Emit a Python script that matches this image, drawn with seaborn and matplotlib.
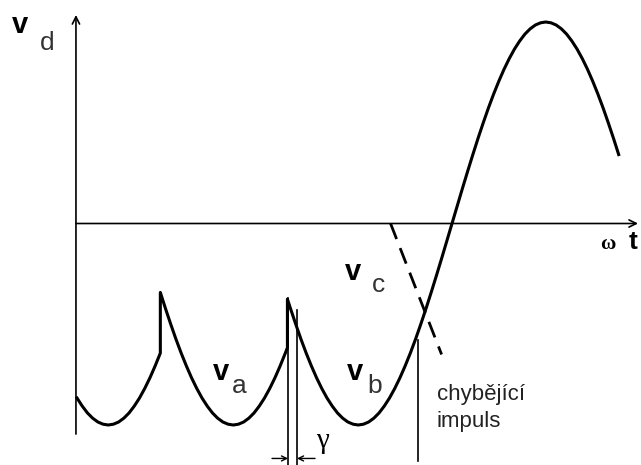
import matplotlib
matplotlib.use("Agg")
import matplotlib.pyplot as plt
import seaborn as sns
import pandas as pd

# ---- data (x in degrees of wt, y in units of phase amplitude) ----
curve_x = [0, 5, 10, 15, 20, 25, 30, 35, 40, 45, 50, 55, 60, 65, 70, 75, 80,
           80, 85, 90, 95, 100, 105, 110, 115, 120, 125, 130, 135, 140, 145, 150,
           155, 160, 165, 170, 175, 180, 185, 190, 195, 200, 202,
           202, 205, 210, 215, 220, 225, 230, 235, 240, 245, 250, 255, 260, 265,
           270, 275, 280, 285, 290, 295, 300, 305, 310, 315, 320, 325, 330, 335,
           340, 345, 350, 355, 360, 365, 370, 375, 380, 385, 390, 395, 400, 405,
           410, 415, 420, 425, 430, 435, 440, 445, 450, 455, 460, 465, 470, 475,
           480, 485, 490, 495, 500, 505, 510, 515, 520]
curve_y = [-0.866, -0.906, -0.940, -0.966, -0.985, -0.996, -1.000, -0.996, -0.985,
           -0.966, -0.940, -0.906, -0.866, -0.819, -0.766, -0.707, -0.643,
           -0.342, -0.423, -0.500, -0.574, -0.643, -0.707, -0.766, -0.819, -0.866,
           -0.906, -0.940, -0.966, -0.985, -0.996, -1.000, -0.996, -0.985, -0.966,
           -0.940, -0.906, -0.866, -0.819, -0.766, -0.707, -0.643, -0.616,
           -0.375, -0.423, -0.500, -0.574, -0.643, -0.707, -0.766, -0.819, -0.866,
           -0.906, -0.940, -0.966, -0.985, -0.996, -1.000, -0.996, -0.985, -0.966,
           -0.940, -0.906, -0.866, -0.819, -0.766, -0.707, -0.643, -0.574, -0.500,
           -0.423, -0.342, -0.259, -0.174, -0.087, 0.000, 0.087, 0.174, 0.259,
           0.342, 0.423, 0.500, 0.574, 0.643, 0.707, 0.766, 0.819, 0.866, 0.906,
           0.940, 0.966, 0.985, 0.996, 1.000, 0.996, 0.985, 0.966, 0.940, 0.906,
           0.866, 0.819, 0.766, 0.707, 0.643, 0.574, 0.500, 0.423, 0.342]

vc_x = [301, 350]          # dashed (missing) phase c
vc_y = [0.0, -0.65]

missing_x = [327.4, 327.4]  # vertical marker of the missing pulse
missing_y = [-0.58, -1.18]

gamma_x1 = [202.6, 202.6]
gamma_y1 = [-0.37, -1.20]
gamma_x2 = [211.2, 211.2]
gamma_y2 = [-0.43, -1.20]

labels = {"vd": ("v", "d"), "va": ("v", "a"), "vb": ("v", "b"), "vc": ("v", "c")}
note_lines = ["chybějící", "impuls"]

# ---- figure ----
W, H = 641, 465
fig = plt.figure(figsize=(W / 100, H / 100), dpi=100)
ax = fig.add_axes([0, 0, 1, 1])
ax.set_axis_off()

PX = 1.0417  # pixels per degree
X0 = 77      # pixel of x = 0
Y0 = 223.5   # pixel of y = 0
A = 201.5    # pixels per unit
ax.set_xlim((0 - X0) / PX, (W - X0) / PX)
ax.set_ylim((Y0 - H) / A, Y0 / A)

curve = pd.DataFrame({"x": curve_x, "y": curve_y})
sns.lineplot(data=curve, x="x", y="y", sort=False, estimator=None,
             color="black", lw=2.2, ax=ax)
sns.lineplot(x=vc_x, y=vc_y, sort=False, estimator=None, color="black",
             lw=2.0, linestyle=(0, (6, 3.5)), ax=ax)
for xs, ys in [(missing_x, missing_y), (gamma_x1, gamma_y1), (gamma_x2, gamma_y2)]:
    sns.lineplot(x=xs, y=ys, sort=False, estimator=None, color="black",
                 lw=1.2, ax=ax)

# axes with arrows
arrow = dict(arrowstyle="->", lw=1.2, color="black", shrinkA=0, shrinkB=0,
             mutation_scale=13)
ax.annotate("", xy=(-1, 1.035), xytext=(-1, -1.045), arrowprops=arrow)
ax.annotate("", xy=(538.6, 0), xytext=(-1, 0), arrowprops=arrow)

# gamma arrows
small = dict(arrowstyle="->", lw=1.0, color="black", shrinkA=0, shrinkB=0,
             mutation_scale=9)
ax.annotate("", xy=(202.6, -1.166), xytext=(187.2, -1.166), arrowprops=small)
ax.annotate("", xy=(211.2, -1.166), xytext=(228.5, -1.166), arrowprops=small)


def ftext(px, py, s, **kw):
    fig.text(px / W, 1 - py / H, s, va="baseline", ha="left", **kw)


main_font = dict(family="Liberation Sans", fontsize=21, fontweight="bold")
sub_font = dict(family="Liberation Sans", fontsize=19, color="#333333")

for key, (vx, vy, sx, sy) in {"vd": (12, 33, 40, 50), "va": (213, 380, 232, 393),
                              "vb": (347, 380, 367, 393), "vc": (345, 280, 372, 292)}.items():
    ftext(vx, vy, labels[key][0], **main_font)
    ftext(sx, sy, labels[key][1], **sub_font)

ftext(600, 249, "ω", family="Liberation Serif", fontsize=15, fontweight="bold")
ftext(629, 249, "t", family="Liberation Sans", fontsize=19, fontweight="bold")

ftext(437, 400, note_lines[0], family="Liberation Sans", fontsize=16, color="#222222")
ftext(437, 427, note_lines[1], family="Liberation Sans", fontsize=16, color="#222222")

ftext(316, 448, "γ", family="Liberation Serif", fontsize=21)

fig.savefig("out.png", dpi=100, facecolor="white")
